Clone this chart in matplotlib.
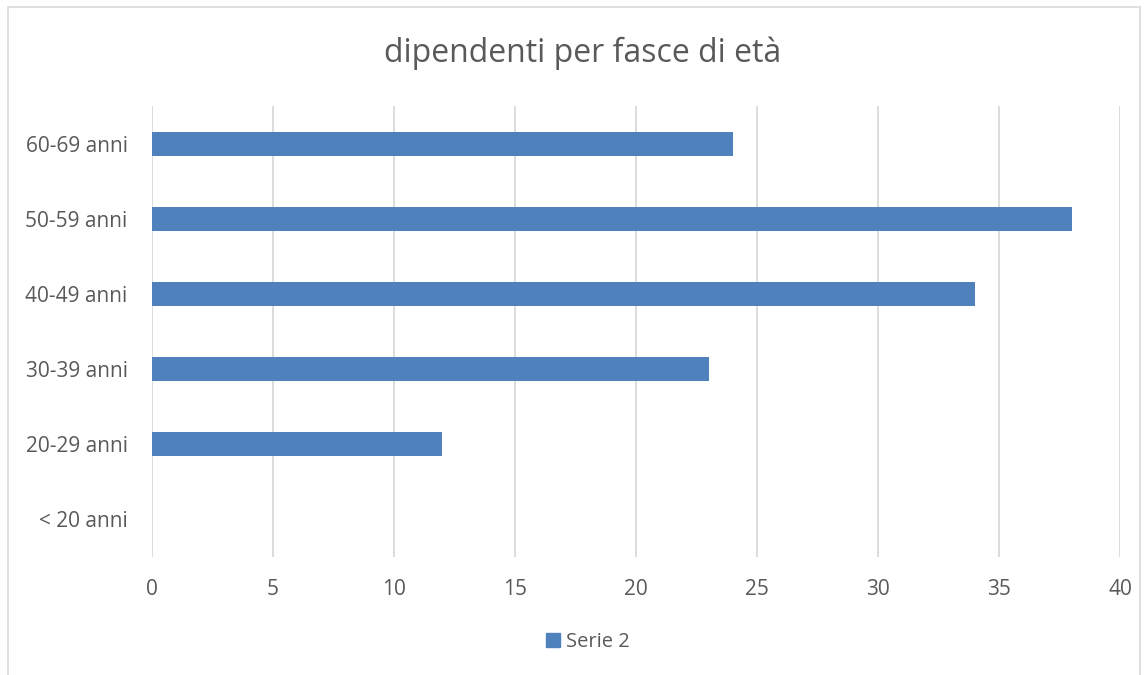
import matplotlib.pyplot as plt
from matplotlib.patches import Rectangle, Patch

categories = ["< 20 anni", "20-29 anni", "30-39 anni", "40-49 anni", "50-59 anni", "60-69 anni"]
values = [0, 12, 23, 34, 38, 24]
xticks = [0, 5, 10, 15, 20, 25, 30, 35, 40]
title = "dipendenti per fasce di età"
series_name = "Serie 2"

bar_color = "#4f81bd"
text_color = "#595959"
grid_color = "#d9d9d9"

plt.rcParams["font.family"] = ["Open Sans", "DejaVu Sans"]

W, H = 1147, 675
fig = plt.figure(figsize=(W / 100, H / 100), dpi=100)
ax = fig.add_axes((152 / W, (H - 557) / H, (1120 - 152) / W, (557 - 106) / H))

ax.barh(range(len(categories)), values, height=0.32, color=bar_color, zorder=3)

ax.set_xlim(0, 40)
ax.set_ylim(-0.5, len(categories) - 0.5)
ax.set_xticks(xticks)
ax.set_xticklabels([str(t) for t in xticks])
ax.set_yticks(range(len(categories)))
ax.set_yticklabels(categories)
ax.tick_params(axis="both", length=0, labelsize=15, colors=text_color)
ax.tick_params(axis="x", pad=16)
ax.tick_params(axis="y", pad=17.5)
ax.xaxis.grid(True, color=grid_color, linewidth=1.3, zorder=0)
for s in ax.spines.values():
    s.set_visible(False)

fig.text(583 / W, (H - 53) / H, title, ha="center", va="center",
         fontsize=23, color=text_color)

leg = fig.legend(handles=[Patch(color=bar_color, label=series_name)],
                 loc="center", bbox_to_anchor=(588 / W, (H - 642) / H),
                 frameon=False, fontsize=14.5, handlelength=0.7, handleheight=0.7,
                 handletextpad=0.3, labelcolor=text_color)

fig.patches.append(Rectangle((8 / W, -0.1), (1140 - 8) / W, (H - 7) / H + 0.1,
                             transform=fig.transFigure, fill=False,
                             edgecolor=grid_color, linewidth=1.2))

fig.savefig("out.png", dpi=100, facecolor="white")
